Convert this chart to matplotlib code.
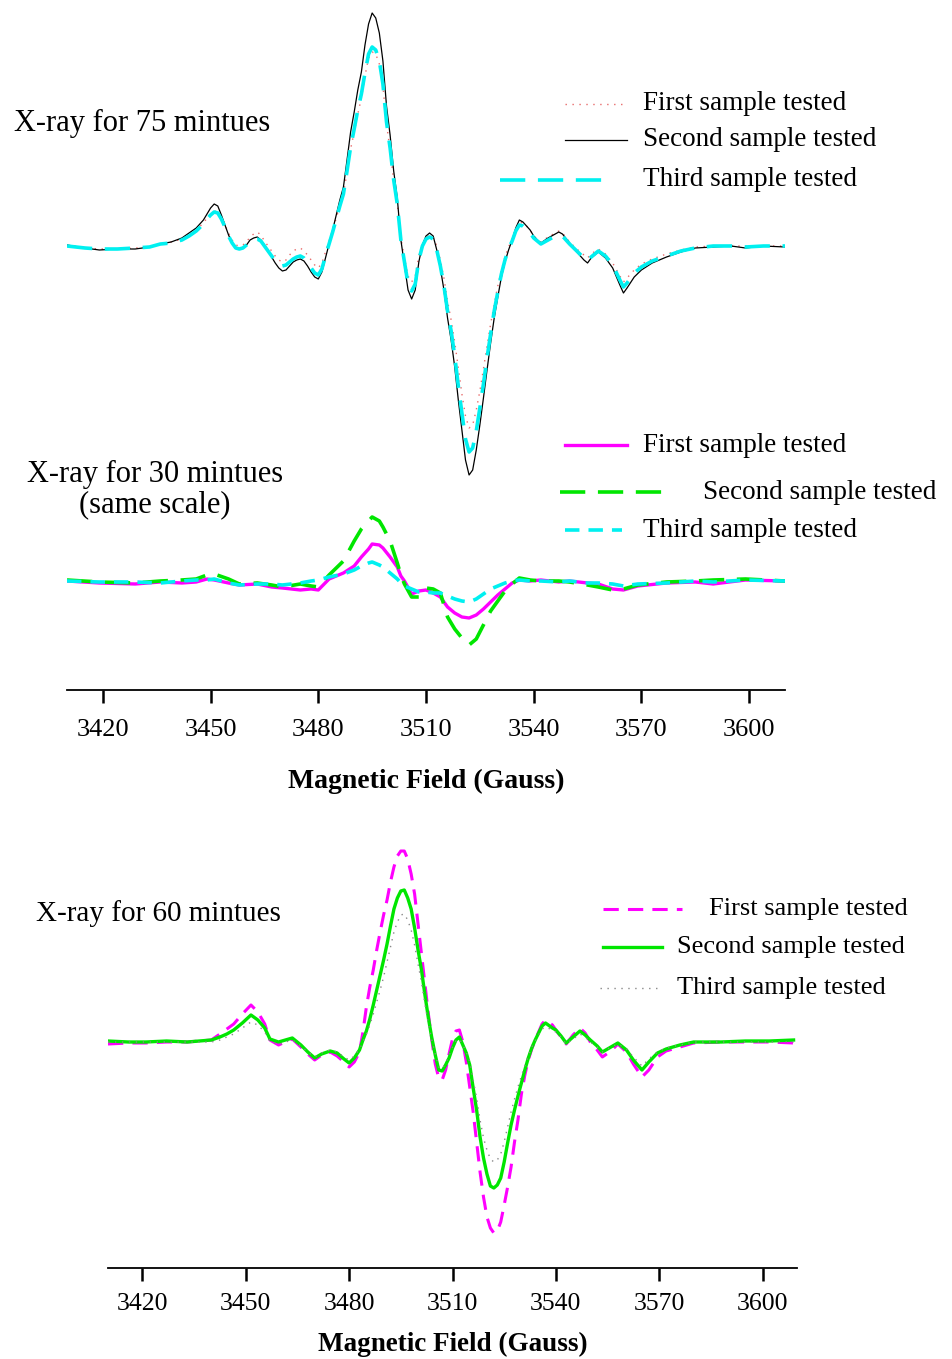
import matplotlib
matplotlib.use("Agg")
import matplotlib.pyplot as plt
from matplotlib.lines import Line2D
import numpy as np

plt.rcParams['font.family'] = ['Liberation Serif', 'DejaVu Serif']

# ---------------- data ----------------
# X-ray 75 minutes: field grid (Gauss) and three spectra
field_75 = [3410, 3415, 3419, 3424, 3429, 3433, 3436, 3439, 3442, 3444, 3446, 3448, 3449, 3450,
            3451, 3452, 3453, 3454, 3455, 3456, 3457, 3458, 3459, 3460, 3461, 3462, 3463, 3464,
            3465, 3466, 3467, 3468, 3469, 3470, 3471, 3472, 3473, 3474, 3475, 3476, 3477, 3478,
            3479, 3480, 3481, 3482, 3483, 3484, 3485, 3486, 3487, 3488, 3489, 3490, 3491, 3492,
            3493, 3494, 3495, 3496, 3497, 3498, 3499, 3500, 3501, 3502, 3503, 3504, 3505, 3506,
            3507, 3508, 3509, 3510, 3511, 3512, 3513, 3514, 3515, 3516, 3517, 3518, 3519, 3520,
            3521, 3522, 3523, 3524, 3525, 3526, 3527, 3528, 3529, 3530, 3531, 3532, 3533, 3534,
            3535, 3536, 3537, 3538, 3539, 3540, 3541, 3542, 3544, 3546, 3547, 3548, 3550, 3552,
            3554, 3555, 3556, 3558, 3560, 3562, 3564, 3565, 3566, 3568, 3570, 3573, 3577, 3581,
            3585, 3590, 3595, 3599, 3604, 3610]
x75_first = [0, -2, -3, -3, -2, -1, 2, 4, 7, 11, 16, 23, 28, 32,
             35, 34, 29, 21, 13, 6, 1, 0, 1, 4, 9, 12, 14, 11,
             5, 0, -5, -10, -14, -16, -14, -9, -5, -3, -2, -5, -9, -14,
             -19, -22, -17, -6, 5, 16, 28, 40, 52, 74, 97, 114, 132, 148,
             170, 188, 194, 192, 182, 160, 122, 96, 65, 42, 8, -12, -30, -36,
             -30, -10, 2, 8, 11, 9, 0, -14, -32, -55, -74, -96, -122, -148,
             -170, -182, -179, -164, -145, -123, -100, -78, -58, -40, -24, -11, -1, 7,
             17, 24, 23, 20, 16, 10, 7, 4, 9, 13, 15, 13, 4, -3,
             -9, -12, -8, -3, -8, -17, -30, -36, -32, -24, -18, -13, -8, -4,
             -1, 0, 0, 0, 0, 0]
x75_second = [1, -2, -4, -3, -3, -1, 2, 4, 8, 13, 18, 26, 32, 38,
              42, 40, 31, 21, 11, 3, -2, -3, -2, 1, 6, 8, 9, 6,
              1, -5, -11, -17, -22, -25, -24, -20, -16, -14, -13, -15, -20, -26,
              -31, -33, -26, -12, 2, 16, 31, 46, 59, 86, 114, 134, 156, 174,
              201, 222, 233, 228, 213, 185, 140, 111, 75, 48, 6, -19, -44, -53,
              -44, -16, 1, 10, 13, 10, -4, -22, -44, -72, -94, -121, -154, -184,
              -214, -229, -224, -204, -179, -152, -124, -97, -72, -51, -31, -16, -4, 6,
              18, 26, 24, 20, 16, 10, 6, 3, 8, 12, 14, 12, 3, -6,
              -14, -17, -12, -6, -12, -22, -39, -47, -42, -31, -24, -17, -11, -6,
              -2, -1, 0, -2, 0, -1]
x75_third = [0, -2, -3, -3, -2, -1, 2, 3, 6, 10, 15, 22, 27, 31,
             34, 33, 27, 19, 10, 3, -2, -3, -2, 1, 5, 7, 7, 5,
             0, -5, -10, -15, -19, -20, -19, -16, -13, -11, -10, -12, -17, -22,
             -27, -29, -23, -10, 2, 14, 27, 40, 52, 75, 99, 117, 136, 152,
             173, 192, 199, 196, 185, 162, 124, 98, 66, 42, 6, -16, -38, -45,
             -38, -14, 0, 7, 9, 7, -4, -20, -40, -65, -85, -110, -140, -167,
             -193, -206, -202, -185, -162, -138, -112, -88, -65, -46, -28, -14, -3, 5,
             15, 21, 20, 17, 13, 8, 5, 2, 6, 10, 11, 10, 2, -5,
             -12, -15, -11, -5, -10, -19, -34, -41, -37, -27, -21, -15, -10, -5,
             -2, 0, 0, -1, 0, 0]

# X-ray 30 minutes (same scale)
field_30 = [3410, 3419, 3429, 3436, 3442, 3446, 3449, 3451, 3455, 3458, 3463, 3467, 3470, 3475,
            3478, 3480, 3483, 3487, 3490, 3492, 3494, 3495, 3497, 3498, 3500, 3502, 3503, 3504,
            3506, 3508, 3510, 3512, 3514, 3516, 3518, 3520, 3522, 3524, 3526, 3528, 3530, 3532,
            3534, 3536, 3539, 3542, 3547, 3550, 3555, 3558, 3562, 3565, 3569, 3577, 3585, 3590,
            3599, 3610]
x30_first = [0, -2, -3, -1, -2, -1, 2, 1, -2, -4, -3, -6, -7, -9, -8, -9, 2, 8, 15, 24, 32, 37,
             36, 33, 24, 14, 5, 0, -13, -10, -9, -12, -16, -26, -32, -36, -37, -34, -28, -21,
             -14, -8, -2, 1, 0, 1, -1, 0, -2, -3, -8, -9, -5, -2, -1, -3, 1, 0]
x30_second = [1, -1, -2, 0, 1, 2, 6, 7, 2, -3, -2, -4, -6, -3, -5, -6, 6, 20, 40, 52, 60, 64,
              60, 54, 40, 18, 6, -3, -16, -16, -7, -8, -12, -36, -48, -57, -64, -58, -44, -30,
              -20, -10, -3, 3, 1, 0, 0, -1, -4, -6, -9, -8, -4, -1, 0, 1, 2, 0]
x30_third = [0, -1, -1, -2, 0, 1, 1, 2, -2, -4, -3, -3, -4, -2, 0, 1, 4, 7, 11, 15, 18, 19,
             16, 14, 8, 2, -2, -5, -8, -11, -11, -12, -12, -15, -18, -20, -21, -18, -13, -8,
             -5, -2, 0, 1, 0, 0, -1, 0, -2, -2, -3, -5, -3, -2, 0, -1, 1, 0]

# X-ray 60 minutes
field_60 = [3410, 3416, 3421, 3427, 3433, 3440, 3442.5, 3444.5, 3446.5, 3449, 3451.5, 3453.5,
            3455.5, 3457, 3459.5, 3461.5, 3463.5, 3466, 3468, 3470, 3472, 3474.5, 3476.5, 3478.5,
            3480, 3481.5, 3483, 3484, 3485, 3486, 3487, 3488, 3489, 3490, 3491, 3492, 3493, 3494,
            3495, 3496, 3497, 3498, 3499, 3500, 3501, 3502, 3503, 3504, 3505, 3506, 3507, 3508,
            3509, 3510, 3511, 3512, 3513, 3514, 3515, 3516, 3517, 3518, 3519, 3520, 3521, 3522,
            3523, 3524, 3525, 3526, 3527, 3528, 3529, 3530, 3531, 3532, 3533, 3534, 3535, 3536,
            3537, 3539, 3540, 3541.5, 3543, 3545, 3547, 3548.5, 3550, 3552, 3553.5, 3556, 3558,
            3560.5, 3562.5, 3565, 3567, 3569.5, 3572, 3576, 3580, 3588, 3595, 3602, 3609]
x60_first = [-2, -1, -1, 0, 0, 2, 8, 13, 18, 28, 37, 30,
             18, 2, -3, 0, 3, -5, -12, -18, -13, -10, -14, -20,
             -25, -20, -10, 10, 35, 55, 72, 92, 110, 127, 142, 160, 175, 186,
             191, 191, 183, 168, 148, 118, 88, 58, 28, 2, -22, -36, -38, -28,
             -12, 3, 11, 12, 0, -20, -45, -70, -100, -130, -155, -175, -186, -191,
             -189, -180, -163, -145, -125, -100, -78, -52, -33, -18, -7, 2, 10, 18,
             22, 17, 12, 5, -2, 7, 14, 9, 0, -8, -15, -9, -2,
             -10, -22, -35, -28, -15, -9, -5, -1, 0, 0, 0, -1]
x60_second = [1, 0, 0, 1, 0, 2, 5, 8, 12, 19, 27, 22,
              14, 3, 0, 2, 4, -3, -10, -16, -12, -9, -11, -17,
              -21, -16, -8, 2, 11, 23, 37, 52, 67, 82, 98, 116, 133, 144,
              151, 152, 144, 133, 114, 92, 72, 47, 24, 4, -13, -28, -29, -23,
              -16, -6, 2, 5, -3, -11, -23, -46, -68, -95, -116, -132, -144, -146,
              -143, -136, -120, -101, -83, -68, -54, -41, -28, -16, -6, 2, 9, 16,
              19, 14, 12, 6, -1, 5, 11, 7, 2, -4, -10, -5, -1,
              -8, -18, -28, -20, -11, -7, -3, 0, 0, 1, 1, 2]
x60_third = [0, 0, 0, 0, 0, 0, 2, 5, 8, 14, 20, 17,
             10, 1, -3, 0, 2, -4, -10, -15, -11, -8, -10, -15,
             -18, -14, -7, 0, 8, 17, 28, 40, 52, 65, 80, 95, 110, 120,
             127, 128, 122, 112, 97, 78, 60, 38, 18, 2, -12, -25, -27, -21,
             -14, -5, 1, 3, -3, -10, -20, -38, -56, -78, -96, -108, -117, -120,
             -118, -112, -100, -85, -70, -57, -45, -34, -24, -14, -5, 1, 7, 13,
             15, 12, 10, 5, -2, 3, 8, 5, 0, -5, -10, -5, -2,
             -7, -15, -24, -17, -10, -6, -3, 0, 0, 0, 0, 0]

ticks = [3420, 3450, 3480, 3510, 3540, 3570, 3600]
sample_labels = ["First sample tested", "Second sample tested", "Third sample tested"]

# ---------------- styles ----------------
st75 = [dict(color='#e86a6a', lw=1.0, ls=(0, (1, 4))),
        dict(color='black', lw=0.9, ls='-'),
        dict(color='#00f0f0', lw=2.6, ls=(0, (7, 3.5)))]
st30 = [dict(color='#ff00ff', lw=2.4, ls='-'),
        dict(color='#00e600', lw=2.6, ls=(0, (7, 3.5))),
        dict(color='#00f0f0', lw=2.6, ls=(0, (4, 2.5)))]
st60 = [dict(color='#ff00ff', lw=2.2, ls=(0, (5, 3))),
        dict(color='#00e600', lw=2.4, ls='-'),
        dict(color='#888888', lw=1.0, ls=(0, (1, 4)))]

W, H = 952, 1359
fig = plt.figure(figsize=(W / 100, H / 100), dpi=100)


def fx(px):
    return px / W


def fy(py):
    return 1 - py / H


def style_axis(ax, fs, pad):
    for s in ['top', 'left', 'right']:
        ax.spines[s].set_visible(False)
    ax.spines['bottom'].set_linewidth(1.3)
    ax.set_yticks([])
    ax.set_xticks(ticks)
    ax.tick_params(axis='x', direction='out', length=9, width=1.8, labelsize=fs, pad=pad)
    ax.set_xlim(3410, 3610)
    ax.patch.set_alpha(0)


# ---- top panel ----
ax1 = fig.add_axes([fx(67), fy(690), fx(785) - fx(67), fy(0) - fy(690)])
off75, off30 = 335, 0
for data, st in zip([x75_first, x75_second, x75_third], st75):
    ax1.plot(field_75, np.array(data) + off75, **st)
for data, st in zip([x30_first, x30_second, x30_third], st30):
    ax1.plot(field_30, np.array(data) + off30, **st)
ax1.set_ylim(-109, 581)
style_axis(ax1, 19, 12)
ax1.set_xlabel("Magnetic Field (Gauss)", fontsize=20, fontweight='bold', labelpad=20)

# ---- bottom panel ----
ax2 = fig.add_axes([fx(108), fy(1268), fx(797) - fx(108), fy(840) - fy(1268)])
for data, st in zip([x60_first, x60_second, x60_third], st60):
    ax2.plot(field_60, data, **st)
ax2.set_ylim(-226, 202)
style_axis(ax2, 18.5, 9)
ax2.set_xlabel("Magnetic Field (Gauss)", fontsize=19.5, fontweight='bold', labelpad=12)

# ---- annotations ----
fig.text(fx(14), fy(123), "X-ray for 75 mintues", fontsize=22, va='center', ha='left')
fig.text(fx(155), fy(490), "X-ray for 30 mintues\n(same scale)", fontsize=22, va='center',
         ha='center', multialignment='center', linespacing=1.05)
fig.text(fx(36), fy(914), "X-ray for 60 mintues", fontsize=21, va='center', ha='left')


def legend_entry(x0, x1, y, tx, text, st, fs):
    fig.add_artist(Line2D([fx(x0), fx(x1)], [fy(y), fy(y)], transform=fig.transFigure, **st))
    fig.text(fx(tx), fy(y), text, fontsize=fs, va='center', ha='left')


legend_entry(565, 625, 104, 643, sample_labels[0], st75[0], 19.5)
legend_entry(565, 627, 140, 643, sample_labels[1], st75[1], 19.5)
legend_entry(500, 605, 180, 643, sample_labels[2], st75[2], 19.5)

legend_entry(565, 627, 445, 643, sample_labels[0], st30[0], 19.5)
legend_entry(560, 665, 492, 703, sample_labels[1], st30[1], 19.5)
legend_entry(565, 622, 530, 643, sample_labels[2], st30[2], 19.5)

legend_entry(603, 682, 909, 709, sample_labels[0], st60[0], 19)
legend_entry(603, 662, 947, 677, sample_labels[1], st60[1], 19)
legend_entry(600, 658, 988, 677, sample_labels[2], st60[2], 19)

fig.savefig("out.png", dpi=100)
